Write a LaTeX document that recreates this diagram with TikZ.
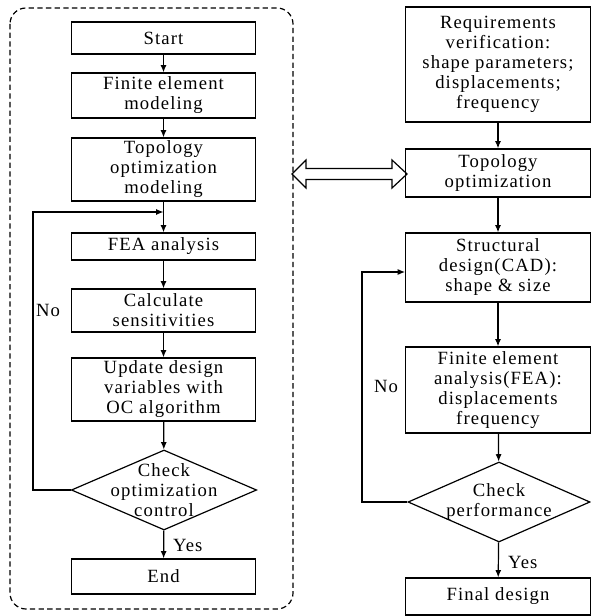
\documentclass[tikz,border=0pt]{standalone}
\usepackage{fontspec}
\setmainfont{Liberation Serif}[LetterSpace=6]
\usetikzlibrary{shapes.geometric,arrows.meta}

\begin{document}
\begin{tikzpicture}[x=0.75pt,y=-0.75pt, line width=0.9pt,
    txt/.style={font=\fontsize{14}{15}\selectfont, align=center},
    box/.style={draw, txt, minimum width=138.5pt, inner sep=1pt},
    decision/.style={draw, diamond, minimum width=139pt, minimum height=60pt, inner sep=0pt},
    flow/.style={-{Latex[length=5.5pt,width=4.5pt]}}]
  \useasboundingbox (0,0) rectangle (591,616);

  % Dashed frame round the left flow
  \draw[dash pattern=on 4pt off 2.5pt, rounded corners=12pt] (10,8) rectangle (293,609);

  % Left flow
  \node[box, minimum height=24pt] (start) at (163.5,38) {Start};
  \node[box, minimum height=33.75pt] (fem) at (163.5,95.5) {Finite element\\modeling};
  \node[box, minimum height=47.25pt] (topo) at (163.5,169.5) {Topology\\optimization\\modeling};
  \node[box, minimum height=20.25pt] (fea) at (163.5,246.5) {FEA analysis};
  \node[box, minimum height=32.25pt] (sens) at (163.5,310.5) {Calculate\\sensitivities};
  \node[box, minimum height=47.25pt] (upd) at (163.5,389.5) {Update design\\variables with\\OC algorithm};
  \node[decision, label={[txt]center:Check\\optimization\\control}] (chk) at (164,490) {};
  \node[box, minimum height=26.25pt] (end) at (163.5,576.5) {End};

  \draw[flow] (start) -- (fem);
  \draw[flow] (fem) -- (topo);
  \draw[flow] (topo) -- (fea);
  \draw[flow] (fea) -- (sens);
  \draw[flow] (sens) -- (upd);
  \draw[flow] (upd) -- (chk);
  \draw[flow] (chk) -- (end);

  % Loop back on the left
  \coordinate (back) at (33,212);
  \coordinate (join) at (163.5,212);
  \draw[flow] (chk.west) -| (back) -- (join);
  \node[txt] (no) at (48,310) {No};
  \node[txt, anchor=west] (yes) at (168,545) {Yes};

  % Right flow
  \node[box, minimum height=86.25pt] (req) at (498,64.5) {Requirements\\verification:\\shape parameters;\\displacements;\\frequency};
  \node[box, minimum height=36pt] (tpo) at (498,173) {Topology\\optimization};
  \node[box, minimum height=51.75pt] (cad) at (498,267.5) {Structural\\design(CAD):\\shape \& size};
  \node[box, minimum height=64.5pt] (fea2) at (498,390) {Finite element\\analysis(FEA):\\displacements\\frequency};
  \node[decision, minimum width=136.5pt, label={[txt]center:Check\\performance}] (perf) at (499,502) {};
  \node[box, minimum height=27.75pt] (final) at (498,596.5) {Final design};

  \draw[flow] (req) -- (tpo);
  \draw[flow] (tpo) -- (cad);
  \draw[flow] (cad) -- (fea2);
  \draw[flow] (fea2) -- (perf);
  \draw[flow] (perf) -- (final);

  % Loop back on the right
  \coordinate (back2) at (362,272);
  \draw[flow] (perf.west) -| (back2) -- (back2 -| cad.west);
  \node[txt] (no2) at (386,386) {No};
  \node[txt, anchor=west] (yes2) at (503,562) {Yes};

  % Hollow double arrow between the two parts
  \draw (292,174) -- (306,160) -- (306,168.5) -- (392,168.5) -- (392,160) -- (407,174)
    -- (392,188) -- (392,179.5) -- (306,179.5) -- (306,188) -- cycle;
\end{tikzpicture}
\end{document}
